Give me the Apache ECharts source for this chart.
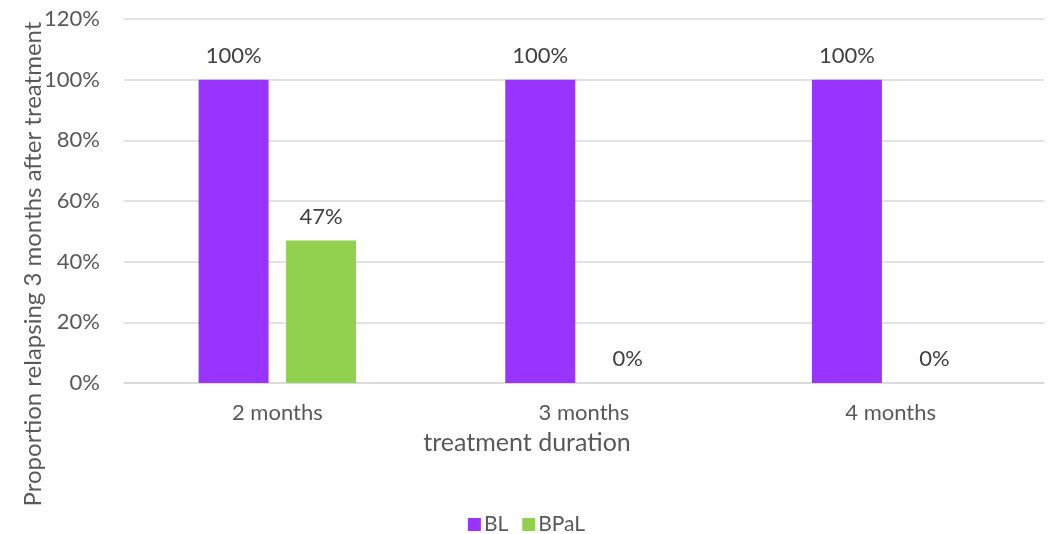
<!DOCTYPE html>
<html>
<head>
<meta charset="utf-8">
<script src="https://cdn.jsdelivr.net/npm/echarts@6/dist/echarts.min.js"></script>
<style>
html,body{margin:0;padding:0;background:#fff;}
#c{width:1053px;height:534px;}
</style>
</head>
<body>
<div id="c"></div>
<script>
const categories = ['2 months', '3 months', '4 months'];
const blValues = [100, 100, 100];
const bpalValues = [47, 0, 0];
const seriesNames = ['BL', 'BPaL'];
const yTicks = [0, 20, 40, 60, 80, 100, 120];

const FONT = 'Lato';
const TXT = '#595959';

const chart = echarts.init(document.getElementById('c'), null, {renderer: 'canvas'});
const labelCfg = {
  show: true,
  position: 'top',
  distance: 13,
  formatter: p => p.value + '%',
  color: '#404040',
  fontFamily: FONT,
  fontSize: 22
};
chart.setOption({
  animation: false,
  textStyle: {fontFamily: FONT},
  grid: {left: 124, right: 9, top: 19, bottom: 151, containLabel: false},
  legend: {
    data: seriesNames,
    top: 509,
    left: 'center',
    itemWidth: 13,
    itemHeight: 13,
    itemGap: 14,
    icon: 'rect',
    textStyle: {color: TXT, fontFamily: FONT, fontSize: 21, padding: [0, 0, 0, -2]}
  },
  xAxis: {
    type: 'category',
    data: categories,
    axisTick: {show: false},
    axisLine: {lineStyle: {color: '#D9D9D9', width: 1.5}},
    axisLabel: {color: TXT, fontFamily: FONT, fontSize: 22, margin: 19}
  },
  yAxis: {
    type: 'value',
    min: yTicks[0],
    max: yTicks[yTicks.length - 1],
    interval: 20,
    axisLine: {show: false},
    axisTick: {show: false},
    splitLine: {lineStyle: {color: '#D9D9D9', width: 1.5}},
    axisLabel: {color: TXT, fontFamily: FONT, fontSize: 22, margin: 24, formatter: v => v + '%'}
  },
  graphic: [
    {
      type: 'text',
      x: 33, y: 264,
      rotation: Math.PI / 2,
      style: {
        text: 'Proportion relapsing 3 months after treatment',
        fill: TXT, font: '24px ' + FONT,
        align: 'center', verticalAlign: 'middle'
      }
    },
    {
      type: 'text',
      x: 527, y: 443,
      style: {
        text: 'treatment duration',
        fill: TXT, font: '25px ' + FONT,
        align: 'center', verticalAlign: 'middle'
      }
    }
  ],
  series: [
    {
      name: seriesNames[0], type: 'bar', data: blValues,
      barWidth: 70, barGap: '25%',
      itemStyle: {color: '#9933FF'},
      label: labelCfg
    },
    {
      name: seriesNames[1], type: 'bar', data: bpalValues,
      barWidth: 70,
      itemStyle: {color: '#92D050'},
      label: labelCfg
    }
  ]
});
</script>
</body>
</html>
